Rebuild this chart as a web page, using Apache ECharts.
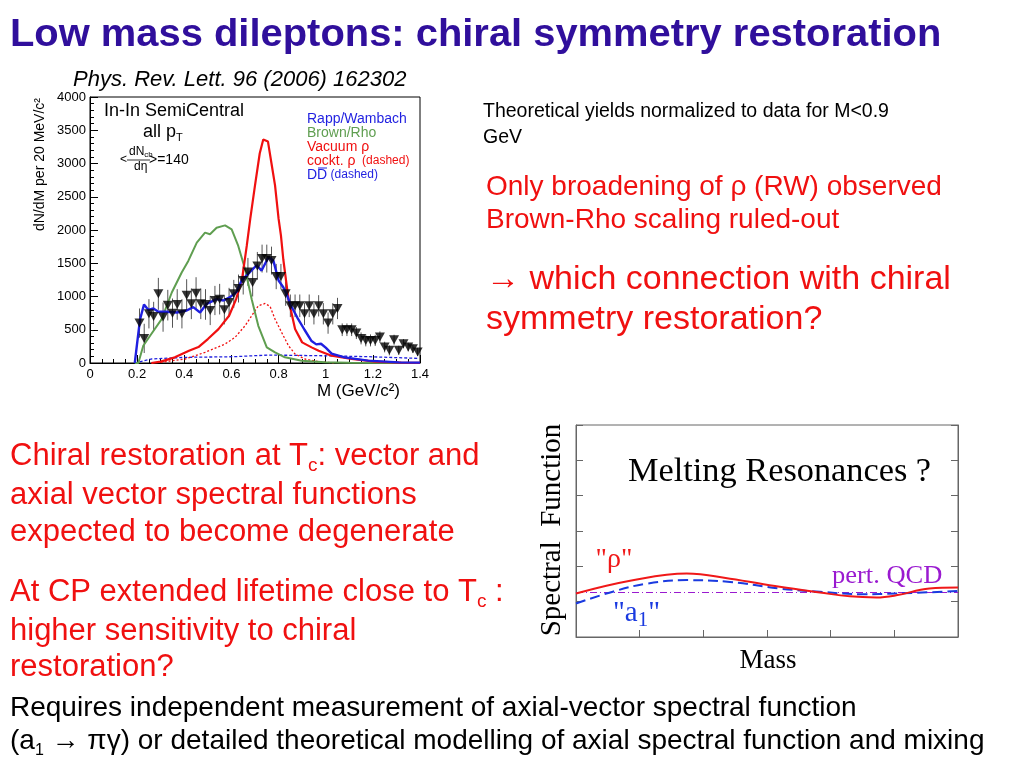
<!DOCTYPE html>
<html>
<head>
<meta charset="utf-8">
<script src="https://cdn.jsdelivr.net/npm/echarts@6/dist/echarts.min.js"></script>
<style>
html,body{margin:0;padding:0;background:#fff;}
#c{width:1024px;height:768px;}
</style>
</head>
<body>
<div id="c"></div>
<script>
// ---------- Main plot: measured data (In-In semicentral) ----------
const dataMass = [0.21,0.23,0.25,0.27,0.29,0.31,0.33,0.35,0.37,0.39,0.41,0.43,0.45,0.47,0.49,0.51,0.53,0.55,0.57,0.59,
  0.61,0.63,0.65,0.67,0.69,0.71,0.73,0.75,0.77,0.79,0.81,0.83,
  0.85,0.87,0.89,0.91,0.93,0.95,0.97,0.99,1.01,1.03,1.05,
  1.07,1.09,1.11,1.13,1.15,1.17,1.19,1.21,1.23,1.25,1.27,1.29,1.31,1.33,1.35,1.37,1.39];
const dataYield = [600,370,740,700,1040,690,870,750,880,740,1020,890,1050,890,880,790,940,960,800,910,
  1040,1120,1240,1370,1210,1460,1570,1570,1540,1300,1300,1040,
  860,860,860,740,860,740,860,740,600,740,820,
  500,500,500,450,370,340,340,340,390,240,190,350,190,290,240,215,165];
const dataErr = [220,220,220,220,240,220,230,220,230,220,240,230,240,230,230,220,220,230,220,220,
  210,210,210,210,210,210,210,210,210,190,190,180,
  170,170,170,170,170,160,160,160,160,160,160,
  95,95,95,90,90,90,90,85,85,80,75,75,70,70,65,65,60];

// ---------- Main plot: model curves ----------
const rwMass  = [0.19,0.20,0.212,0.229,0.247,0.269,0.29,0.325,0.368,0.41,0.438,0.467,0.495,0.537,0.566,0.594,0.622,0.643,0.679,0.707,0.728,0.757,0.778,0.80,0.82,0.834,0.85,0.88,0.91,0.94,0.96,0.98,1.0,1.025,1.08,1.18,1.31,1.4];
const rwYield = [0,300,650,880,800,820,770,770,760,790,840,760,890,960,940,990,1070,1240,1370,1470,1390,1590,1540,1240,1140,1040,880,680,500,330,280,290,230,140,85,35,10,5];

const brMass  = [0.19,0.205,0.226,0.255,0.304,0.347,0.389,0.417,0.453,0.488,0.509,0.537,0.573,0.601,0.629,0.658,0.686,0.714,0.75,0.785,0.827,0.898,0.997,1.1,1.4];
const brYield = [0,0,260,410,660,1060,1360,1535,1810,1960,1935,2035,2070,2010,1760,1410,960,560,235,160,85,35,10,3,0];

const vacMass  = [0.26,0.30,0.36,0.42,0.46,0.50,0.545,0.59,0.62,0.645,0.665,0.68,0.70,0.72,0.735,0.755,0.77,0.785,0.80,0.81,0.82,0.842,0.87,0.90,0.94,0.97,1.025,1.11,1.21,1.32,1.4];
const vacYield = [0,20,85,185,240,360,510,710,960,1260,1760,2170,2670,3150,3360,3330,3000,2670,2170,1920,1560,960,510,310,235,185,110,60,20,5,2];

const cockMass  = [0.30,0.403,0.488,0.573,0.615,0.658,0.686,0.714,0.743,0.764,0.785,0.813,0.842,0.87,0.912,0.969,1.04];
const cockYield = [10,60,160,285,385,560,710,860,895,850,660,460,260,135,60,20,0];

const ddMass  = [0.19,0.26,0.403,0.615,0.757,0.969,1.18,1.39];
const ddYield = [0,60,85,95,120,110,95,70];

// ---------- Inset: "Melting Resonances ?" ----------
const spMassRho = [0,0.85,1.74,2.42,3.2,3.83,4.3,4.72,5.03,5.55,6];
const spRho     = [1.23,1.59,1.80,1.65,1.42,1.26,1.15,1.12,1.18,1.37,1.40];
const spMassA1  = [0,0.59,1.11,1.74,2.42,3.2,3.83,4.5,5.03,6];
const spA1      = [0.95,1.29,1.51,1.61,1.56,1.37,1.28,1.21,1.23,1.30];
const spMassQCD = [0,6];
const spQCD     = [1.26,1.26];

const BLUE = '#1f1fe0', GREEN = '#5f9e50', RED = '#f01010';
const pairs = (a, b) => a.map((v, i) => [v, b[i]]);
const FONT = '"Liberation Sans", Arial, Helvetica, sans-serif';
const SERIF = '"Liberation Serif", "Times New Roman", serif';

const chart = echarts.init(document.getElementById('c'), null, {renderer: 'canvas'});

function txt(text, x, y, size, color, opts) {
  opts = opts || {};
  return {
    type: 'text', x: x, y: y, rotation: opts.rotation || 0, scaleX: opts.scaleX || 1, z: 100,
    style: {
      text: text, fill: color, align: opts.align || 'left', verticalAlign: 'middle',
      font: (opts.style || '') + ' ' + (opts.weight || 'normal') + ' ' + size + 'px ' + (opts.family || FONT),
      rich: opts.rich
    }
  };
}
function subRich(size, subSize, color, family) {
  family = family || FONT;
  return {
    a: {fontSize: size, fontFamily: family, color: color, verticalAlign: 'top', lineHeight: Math.round(size * 1.12)},
    s: {fontSize: subSize, fontFamily: family, color: color, verticalAlign: 'bottom', lineHeight: Math.round(subSize * 0.95)}
  };
}

const option = {
  backgroundColor: '#fff',
  animation: false,
  grid: [
    {left: 90, top: 97, width: 330, height: 266, show: true, borderColor: '#000', borderWidth: 1, backgroundColor: 'transparent'},
    {left: 576, top: 425, width: 382, height: 212, show: true, borderColor: '#666', borderWidth: 1, backgroundColor: 'transparent'}
  ],
  xAxis: [
    {gridIndex: 0, type: 'value', min: 0, max: 1.4, interval: 0.2,
      axisLine: {lineStyle: {color: '#000'}},
      axisTick: {inside: true, length: 8, lineStyle: {color: '#000'}},
      minorTick: {show: true, splitNumber: 4, length: 4, lineStyle: {color: '#000'}},
      splitLine: {show: false},
      axisLabel: {color: '#000', fontSize: 13, fontFamily: FONT, margin: 5,
        formatter: v => String(parseFloat(v.toFixed(1)))}},
    {gridIndex: 1, type: 'value', min: 0, max: 6, interval: 1,
      axisLine: {lineStyle: {color: '#666'}},
      axisTick: {inside: true, length: 7, lineStyle: {color: '#666'}},
      splitLine: {show: false}, axisLabel: {show: false}}
  ],
  yAxis: [
    {gridIndex: 0, type: 'value', min: 0, max: 4000, interval: 500,
      axisLine: {show: true, lineStyle: {color: '#000'}},
      axisTick: {show: true, inside: true, length: 8, lineStyle: {color: '#000'}},
      minorTick: {show: true, splitNumber: 5, length: 4, lineStyle: {color: '#000'}},
      splitLine: {show: false},
      axisLabel: {color: '#000', fontSize: 13, fontFamily: FONT, margin: 4, formatter: v => String(v)}},
    {gridIndex: 1, type: 'value', min: 0, max: 6, interval: 1,
      axisLine: {show: true, lineStyle: {color: '#666'}},
      axisTick: {show: true, inside: true, length: 7, lineStyle: {color: '#666'}},
      splitLine: {show: false}, axisLabel: {show: false}},
    {gridIndex: 1, type: 'value', min: 0, max: 6, interval: 1, position: 'right',
      axisLine: {show: true, lineStyle: {color: '#666'}},
      axisTick: {show: true, inside: true, length: 7, lineStyle: {color: '#666'}},
      splitLine: {show: false}, axisLabel: {show: false}}
  ],
  series: [
    {name: 'D Dbar', type: 'line', xAxisIndex: 0, yAxisIndex: 0, showSymbol: false, data: pairs(ddMass, ddYield),
      lineStyle: {color: BLUE, width: 1.3, type: [3, 2]}},
    {name: 'cockt rho', type: 'line', xAxisIndex: 0, yAxisIndex: 0, showSymbol: false, data: pairs(cockMass, cockYield),
      lineStyle: {color: RED, width: 1.3, type: [2, 2]}},
    {name: 'Brown/Rho', type: 'line', xAxisIndex: 0, yAxisIndex: 0, showSymbol: false, data: pairs(brMass, brYield),
      lineStyle: {color: GREEN, width: 2}},
    {name: 'Vacuum rho', type: 'line', xAxisIndex: 0, yAxisIndex: 0, showSymbol: false, data: pairs(vacMass, vacYield),
      lineStyle: {color: RED, width: 2.2}},
    {name: 'errors', type: 'custom', xAxisIndex: 0, yAxisIndex: 0,
      data: dataMass.map((m, i) => [m, dataYield[i], dataErr[i]]),
      renderItem: function (params, api) {
        const x = api.value(0), y = api.value(1), e = api.value(2);
        const p1 = api.coord([x, y - e]), p2 = api.coord([x, y + e]);
        return {type: 'line', shape: {x1: p1[0], y1: p1[1], x2: p2[0], y2: p2[1]}, style: {stroke: '#555', lineWidth: 1}};
      }},
    {name: 'Rapp/Wambach', type: 'line', xAxisIndex: 0, yAxisIndex: 0, showSymbol: false, data: pairs(rwMass, rwYield),
      lineStyle: {color: BLUE, width: 2.4}, z: 3},
    {name: 'data', type: 'scatter', xAxisIndex: 0, yAxisIndex: 0, data: pairs(dataMass, dataYield),
      symbol: 'triangle', symbolRotate: 180, symbolSize: [10, 9], itemStyle: {color: '#000'}, z: 4},

    {name: 'pert. QCD', type: 'line', xAxisIndex: 1, yAxisIndex: 1, showSymbol: false, data: pairs(spMassQCD, spQCD),
      lineStyle: {color: '#9a1ad0', width: 1.2, type: [7, 3, 1, 3]}},
    {name: 'a1', type: 'line', xAxisIndex: 1, yAxisIndex: 1, showSymbol: false, smooth: 0.4, data: pairs(spMassA1, spA1),
      lineStyle: {color: '#1a3ae0', width: 2, type: [10, 5]}},
    {name: 'rho', type: 'line', xAxisIndex: 1, yAxisIndex: 1, showSymbol: false, smooth: 0.4, data: pairs(spMassRho, spRho),
      lineStyle: {color: '#f01818', width: 2}}
  ],
  graphic: [
    txt('Low mass dileptons: chiral symmetry restoration', 10, 36, 38, '#300f9c', {weight: 'bold', scaleX: 1.05}),
    txt('Phys. Rev. Lett. 96 (2006) 162302', 73, 80, 22, '#000', {style: 'italic'}),

    // main plot annotations
    txt('dN/dM per 20 MeV/c²', 40, 98, 14, '#000', {rotation: Math.PI / 2, align: 'right'}),
    txt('M (GeV/c²)', 400, 391, 17, '#000', {align: 'right'}),
    txt('In-In SemiCentral', 104, 111, 18, '#000'),
    txt('{a|all p}{s|T}', 143, 133, 17, '#000', {rich: subRich(18, 11, '#000')}),
    txt('{a|dN}{s|ch}', 129, 152, 12, '#000', {rich: subRich(12, 8, '#000')}),
    {type: 'line', shape: {x1: 127, y1: 160, x2: 150, y2: 160}, style: {stroke: '#000', lineWidth: 0.8}},
    txt('dη', 134, 167, 12, '#000'),
    txt('<', 120, 160, 12, '#000'),
    txt('>=140', 149, 160, 14, '#000'),
    txt('Rapp/Wambach', 307, 119, 14, BLUE),
    txt('Brown/Rho', 307, 133, 14, GREEN),
    txt('Vacuum ρ', 307, 147, 14, RED),
    txt('{a|cockt. ρ}{b|  (dashed)}', 307, 161, 14, RED, {rich: {a: {fontSize: 14, fontFamily: FONT}, b: {fontSize: 12, fontFamily: FONT}}}),
    txt('{a|DD}{b| (dashed)}', 307, 175, 14, BLUE, {rich: {a: {fontSize: 14, fontFamily: FONT}, b: {fontSize: 12, fontFamily: FONT}}}),
    {type: 'line', z: 100, shape: {x1: 318, y1: 168, x2: 327, y2: 168}, style: {stroke: BLUE, lineWidth: 1}},

    // right column
    txt('Theoretical yields normalized to data for M<0.9', 483, 112, 19.5, '#000'),
    txt('GeV', 483, 138, 19.5, '#000'),
    txt('Only broadening of ρ (RW) observed', 486, 187, 28, RED),
    txt('Brown-Rho scaling ruled-out', 486, 220, 28, RED),
    txt('→ which connection with chiral', 486, 280, 34, RED),
    txt('symmetry restoration?', 486, 320, 34, RED),

    // left block
    txt('{a|Chiral restoration at T}{s|c}{a|: vector and}', 10, 458, 31, RED, {rich: subRich(31, 19, RED)}),
    txt('axial vector spectral functions', 10, 495, 31, RED),
    txt('expected to become degenerate', 10, 532, 31, RED),
    txt('{a|At CP extended lifetime close to T}{s|c}{a| :}', 10, 594, 31, RED, {rich: subRich(31, 19, RED)}),
    txt('higher sensitivity to chiral', 10, 631, 31, RED),
    txt('restoration?', 10, 667, 31, RED),

    // bottom lines
    txt('{a|Requires }{r|independent}{a| measurement of axial-vector spectral function}', 10, 708, 28, '#000', {rich: {a: {fontSize: 28, fontFamily: FONT, color: '#000'}, r: {fontSize: 28, fontFamily: FONT, color: RED}}}),
    txt('{a|(a}{s|1}{a| → πγ) or detailed theoretical modelling of axial spectral function and mixing}', 10, 743, 28, '#000', {rich: subRich(28, 16, '#000')}),

    // inset texts
    txt('Melting Resonances ?', 628, 472, 33, '#000', {family: SERIF, scaleX: 1.04}),
    txt('Spectral  Function', 552, 530, 29, '#000', {family: SERIF, rotation: Math.PI / 2, align: 'center'}),
    txt('Mass', 768, 661, 27, '#000', {family: SERIF, align: 'center'}),
    txt('"ρ"', 614, 560, 28, '#f01818', {family: SERIF, align: 'center'}),
    txt('{a|"a}{s|1}{a|"}', 613, 615, 28, '#1a3ae0', {rich: subRich(29, 21, '#1a3ae0', SERIF)}),
    txt('pert. QCD', 832, 576, 25, '#9a1ad0', {family: SERIF, scaleX: 1.06})
  ]
};
chart.setOption(option);
</script>
</body>
</html>
